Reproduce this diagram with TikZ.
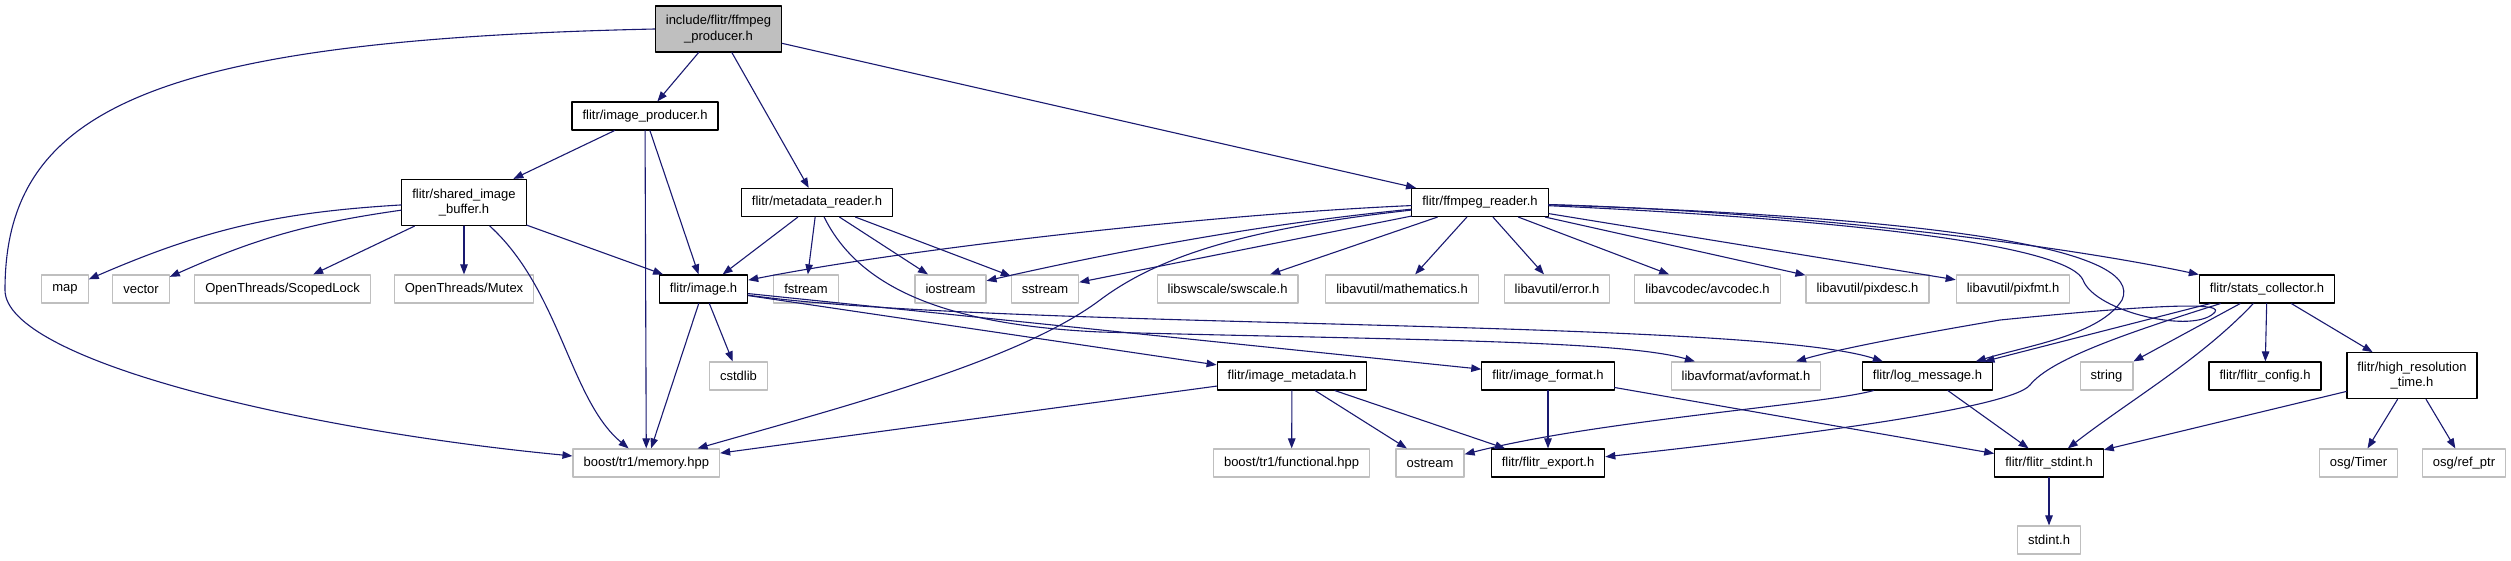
\documentclass[tikz,border=0pt]{standalone}
\usepackage{fontspec}
\setmainfont{Liberation Sans}
\usetikzlibrary{arrows.meta}
\definecolor{edgeblue}{HTML}{191970}
\definecolor{extgray}{HTML}{BFBFBF}
\definecolor{rootgray}{HTML}{BFBFBF}

\begin{document}
\begin{tikzpicture}[x=1pt, y=-1pt, line cap=round, line join=round,
    box/.style={rectangle, font=\fontsize{13}{15.5}\selectfont, inner xsep=10.5pt, inner ysep=2pt, minimum height=28pt, line width=1.2pt, align=center},
    proj/.style={box, draw=black},
    ext/.style={box, draw=extgray},
    root/.style={proj, fill=rootgray},
    tall/.style={minimum height=46pt},
    dep/.style={draw=edgeblue, line width=1.1pt, -{Triangle[length=10pt,width=7.5pt]}}]
            \useasboundingbox (0,0) rectangle (2511,560);

            \node[root, tall] (prod) at (718.5,29) {include/flitr/ffmpeg\\\_producer.h};
            \node[proj] (iprod) at (645,116) {flitr/image\_producer.h};
            \node[proj, tall] (sib) at (464,202.5) {flitr/shared\_image\\\_buffer.h};
            \node[proj] (mdr) at (817,202.5) {flitr/metadata\_reader.h};
            \node[proj] (ffr) at (1480,202.5) {flitr/ffmpeg\_reader.h};

            \node[ext] (map) at (65,289) {map};
            \node[ext] (vec) at (141,289) {vector};
            \node[ext] (slock) at (282.6,289) {OpenThreads/ScopedLock};
            \node[ext] (mutex) at (464,289) {OpenThreads/Mutex};
            \node[proj] (img) at (703.5,289) {flitr/image.h};
            \node[ext] (fstr) at (806,289) {fstream};
            \node[ext] (iostr) at (950.5,289) {iostream};
            \node[ext] (sstr) at (1045,289) {sstream};
            \node[ext] (sws) at (1227.6,289) {libswscale/swscale.h};
            \node[ext] (math) at (1402,289) {libavutil/mathematics.h};
            \node[ext] (err) at (1557,289) {libavutil/error.h};
            \node[ext] (codec) at (1707.5,289) {libavcodec/avcodec.h};
            \node[ext] (pixd) at (1867.5,289) {libavutil/pixdesc.h};
            \node[ext] (pixf) at (2013,289) {libavutil/pixfmt.h};
            \node[proj] (stats) at (2267,289) {flitr/stats\_collector.h};

            \node[ext] (cstd) at (738.5,376) {cstdlib};
            \node[proj] (imeta) at (1292,376) {flitr/image\_metadata.h};
            \node[proj] (ifmt) at (1548,376) {flitr/image\_format.h};
            \node[ext] (avfmt) at (1746,376) {libavformat/avformat.h};
            \node[proj] (logm) at (1927.5,376) {flitr/log\_message.h};
            \node[ext] (str) at (2106.5,376) {string};
            \node[proj] (cfg) at (2265,376) {flitr/flitr\_config.h};
            \node[proj, tall] (hrt) at (2412,375.7) {flitr/high\_resolution\\\_time.h};

            \node[ext] (mem) at (646.3,463) {boost/tr1/memory.hpp};
            \node[ext] (func) at (1291.6,463) {boost/tr1/functional.hpp};
            \node[ext] (ostr) at (1430,463) {ostream};
            \node[proj] (fexp) at (1548,463) {flitr/flitr\_export.h};
            \node[proj] (fstd) at (2049,463) {flitr/flitr\_stdint.h};
            \node[ext] (timer) at (2358.6,463) {osg/Timer};
            \node[ext] (refp) at (2464,463) {osg/ref\_ptr};
            \node[ext] (stdh) at (2049,540) {stdint.h};

            \draw[dep] (prod) -- (iprod);
            \draw[dep] (prod) -- (mdr);
            \draw[dep] (prod) -- (ffr);
            \draw[dep] (prod.west) .. controls (150,40) and (5,110) .. (5,290) .. controls (5,360) and (300,430) .. (mem);

            \draw[dep] (iprod) -- (sib);
            \draw[dep] (iprod) -- (mem);
            \draw[dep] (iprod) -- (img);

            \draw[dep] (sib) to[bend right=10] (map);
            \draw[dep] (sib) to[bend right=8] (vec);
            \draw[dep] (sib) -- (slock);
            \draw[dep] (sib) -- (mutex);
            \draw[dep] (sib) -- (img);
            \draw[dep] (sib) .. controls (560,290) and (570,400) .. (mem);

            \draw[dep] (mdr) -- (img);
            \draw[dep] (mdr) -- (fstr);
            \draw[dep] (mdr) -- (iostr);
            \draw[dep] (mdr) -- (sstr);
            \draw[dep] (mdr) .. controls (860,290) and (950,325) .. (1100,332) .. controls (1400,340) and (1620,340) .. (avfmt);

            \draw[dep] (ffr) .. controls (1200,215) and (900,250) .. (img);
            \draw[dep] (ffr) .. controls (1250,225) and (1100,255) .. (iostr);
            \draw[dep] (ffr) -- (sstr);
            \draw[dep] (ffr) .. controls (1250,228) and (1160,255) .. (1100,300) .. controls (1020,360) and (850,405) .. (mem);
            \draw[dep] (ffr) -- (sws);
            \draw[dep] (ffr) -- (math);
            \draw[dep] (ffr) -- (err);
            \draw[dep] (ffr) -- (codec);
            \draw[dep] (ffr) -- (pixd);
            \draw[dep] (ffr) -- (pixf);
            \draw[dep] (ffr) .. controls (1800,212) and (2060,245) .. (stats);
            \draw[dep] (ffr) .. controls (1950,218) and (2145,250) .. (2122,300) .. controls (2100,335) and (2030,345) .. (logm);
            \draw[dep] (ffr) .. controls (1900,222) and (2070,250) .. (2083,280) .. controls (2095,312) and (2195,335) .. (2215,312) .. controls (2225,300) and (2120,308) .. (2000,320) .. controls (1900,337) and (1835,350) .. (avfmt);

            \draw[dep] (img) -- (cstd);
            \draw[dep] (img) -- (mem);
            \draw[dep] (img) -- (imeta);
            \draw[dep] (img) -- (ifmt);
            \draw[dep] (img) .. controls (1000,330) and (1750,318) .. (logm);

            \draw[dep] (stats) -- (logm);
            \draw[dep] (stats) -- (str);
            \draw[dep] (stats) -- (cfg);
            \draw[dep] (stats) -- (hrt);
            \draw[dep] (stats) .. controls (2200,360) and (2130,400) .. (fstd);
            \draw[dep] (stats) .. controls (2120,335) and (2050,360) .. (2030,385) .. controls (2010,410) and (1760,440) .. (fexp);

            \draw[dep] (imeta) -- (mem);
            \draw[dep] (imeta) -- (func);
            \draw[dep] (imeta) -- (ostr);
            \draw[dep] (imeta) -- (fexp);
            \draw[dep] (ifmt) -- (fexp);
            \draw[dep] (ifmt) -- (fstd);
            \draw[dep] (logm) .. controls (1820,405) and (1600,420) .. (ostr);
            \draw[dep] (logm) -- (fstd);

            \draw[dep] (hrt) -- (fstd);
            \draw[dep] (hrt) -- (timer);
            \draw[dep] (hrt) -- (refp);
            \draw[dep] (fstd) -- (stdh);

        \end{tikzpicture}
\end{document}
